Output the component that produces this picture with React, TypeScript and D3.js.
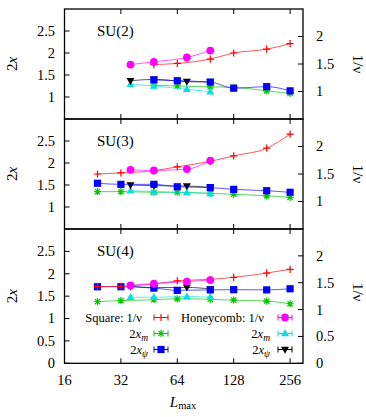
import React from 'react';
import * as d3 from 'd3';

const W = 366;
const H = 417;

// x-axis
const xTicks = [16, 32, 64, 128, 256];
const xDomain = [16, 300];

// panels
const panelNames = ['SU(2)', 'SU(3)', 'SU(4)'];
const leftDomains = [[0.5, 3], [0.5, 3], [0, 3]];
const rightDomains = [[0.5, 2.5], [0.5, 2.5], [0, 2.5]];
const leftTicks = [[1, 1.5, 2, 2.5], [1, 1.5, 2, 2.5], [0, 0.5, 1, 1.5, 2, 2.5]];
const rightTicks = [[1, 1.5, 2], [1, 1.5, 2], [0, 0.5, 1, 1.5, 2]];

// system sizes
const squareLsu2 = [48, 64, 96, 128, 192, 256];
const squareL = [24, 32, 48, 64, 96, 128, 192, 256];
const honeyL = [36, 48, 72, 96];

// SU(2)
const su2SqInvNu = [1.49, 1.51, 1.59, 1.70, 1.77, 1.87];
const su2Sq2xm = [1.27, 1.25, 1.23, 1.22, 1.14, 1.08];
const su2Sq2xpsi = [1.39, 1.37, 1.34, 1.2, 1.235, 1.14];
const su2HcInvNu = [1.49, 1.54, 1.62, 1.745];
const su2Hc2xm = [1.29, 1.25, 1.175, 1.12];
const su2Hc2xpsi = [1.37, 1.4, 1.35, 1.34];

// SU(3)
const su3SqInvNu = [1.5, 1.52, 1.56, 1.63, 1.73, 1.83, 1.97, 2.225];
const su3Sq2xm = [1.35, 1.35, 1.335, 1.335, 1.31, 1.29, 1.255, 1.22];
const su3Sq2xpsi = [1.54, 1.515, 1.515, 1.46, 1.44, 1.4, 1.37, 1.335];
const su3HcInvNu = [1.576, 1.564, 1.589, 1.745];
const su3Hc2xm = [1.37, 1.35, 1.325, 1.31];
const su3Hc2xpsi = [1.5, 1.485, 1.477, 1.448];

// SU(4)
const su4SqInvNu = [1.426, 1.434, 1.477, 1.533, 1.564, 1.6, 1.68, 1.75];
const su4Sq2xm = [1.38, 1.4, 1.42, 1.44, 1.43, 1.41, 1.39, 1.33];
const su4Sq2xpsi = [1.71, 1.71, 1.68, 1.63, 1.64, 1.645, 1.64, 1.665];
const su4HcInvNu = [1.45, 1.485, 1.52, 1.55];
const su4Hc2xm = [1.475, 1.475, 1.49, 1.475];
const su4Hc2xpsi = [1.72, 1.69, 1.695, 1.66];

type Marker = 'plus' | 'star' | 'square' | 'circle' | 'triUp' | 'triDown';
interface Series { L: number[]; v: number[]; axis: 'L' | 'R'; color: string; marker: Marker; }

const C_RED = '#ff0000';
const C_GREEN = '#00c800';
const C_BLUE = '#0000ff';
const C_MAG = '#ff00ff';
const C_CYAN = '#00e0e0';
const C_BLACK = '#000000';

function mk(sqL: number[], sqInv: number[], sqM: number[], sqP: number[], hcInv: number[], hcM: number[], hcP: number[]): Series[] {
  return [
    { L: sqL, v: sqM, axis: 'L', color: C_GREEN, marker: 'star' },
    { L: honeyL, v: hcM, axis: 'L', color: C_CYAN, marker: 'triUp' },
    { L: honeyL, v: hcP, axis: 'L', color: C_BLACK, marker: 'triDown' },
    { L: sqL, v: sqP, axis: 'L', color: C_BLUE, marker: 'square' },
    { L: sqL, v: sqInv, axis: 'R', color: C_RED, marker: 'plus' },
    { L: honeyL, v: hcInv, axis: 'R', color: C_MAG, marker: 'circle' },
  ];
}

const panelSeries: Series[][] = [
  mk(squareLsu2, su2SqInvNu, su2Sq2xm, su2Sq2xpsi, su2HcInvNu, su2Hc2xm, su2Hc2xpsi),
  mk(squareL, su3SqInvNu, su3Sq2xm, su3Sq2xpsi, su3HcInvNu, su3Hc2xm, su3Hc2xpsi),
  mk(squareL, su4SqInvNu, su4Sq2xm, su4Sq2xpsi, su4HcInvNu, su4Hc2xm, su4Hc2xpsi),
];

const X0 = 64.5;
const X1 = 303;
const panelTops = [9, 119, 229];
const panelBottoms = [119, 229, 363.3];

const FONT = '"Liberation Serif", "Times New Roman", serif';

function MarkerShape({ m, x, y, color }: { m: Marker; x: number; y: number; color: string }) {
  const s = 3.6;
  switch (m) {
    case 'plus':
      return <path d={`M${x - s},${y}H${x + s}M${x},${y - s}V${y + s}`} stroke={color} strokeWidth={1.2} fill="none" />;
    case 'star':
      return <path d={`M${x - s},${y}H${x + s}M${x},${y - s}V${y + s}M${x - s * 0.75},${y - s * 0.75}L${x + s * 0.75},${y + s * 0.75}M${x - s * 0.75},${y + s * 0.75}L${x + s * 0.75},${y - s * 0.75}`} stroke={color} strokeWidth={1.2} fill="none" />;
    case 'square':
      return <rect x={x - 3.6} y={y - 3.6} width={7.2} height={7.2} fill={color} />;
    case 'circle':
      return <circle cx={x} cy={y} r={3.9} fill={color} />;
    case 'triUp':
      return <path d={`M${x},${y - 4.2}L${x + 4},${y + 2.8}L${x - 4},${y + 2.8}Z`} fill={color} />;
    case 'triDown':
      return <path d={`M${x},${y + 4.2}L${x + 4},${y - 2.8}L${x - 4},${y - 2.8}Z`} fill={color} />;
  }
  return null;
}

function LegendSample({ cx, cy, color, m }: { cx: number; cy: number; color: string; m: Marker }) {
  return (
    <g>
      <path d={`M${cx - 7},${cy}H${cx + 7}M${cx - 7},${cy - 3}V${cy + 3}M${cx + 7},${cy - 3}V${cy + 3}`} stroke={color} strokeWidth={1} fill="none" />
      <MarkerShape m={m} x={cx} y={cy} color={color} />
    </g>
  );
}

export default function App() {
  const x = d3.scaleLog().base(2).domain(xDomain).range([X0, X1]);

  return (
    <svg width={W} height={H} style={{ position: 'absolute', left: 0, top: 0, background: '#fff' }} fontFamily={FONT}>
      {panelNames.map((name, pi) => {
        const top = panelTops[pi];
        const bot = panelBottoms[pi];
        const yL = d3.scaleLinear().domain(leftDomains[pi]).range([bot, top]);
        const yR = d3.scaleLinear().domain(rightDomains[pi]).range([bot, top]);
        const mid = (top + bot) / 2;
        return (
          <g key={name}>
            {/* x ticks top & bottom */}
            {xTicks.filter(t => t > 16).map(t => (
              <g key={t}>
                <line x1={x(t)} x2={x(t)} y1={top} y2={top + 5} stroke="#000" strokeWidth={1} />
                <line x1={x(t)} x2={x(t)} y1={bot} y2={bot - 5} stroke="#000" strokeWidth={1} />
              </g>
            ))}
            {/* left ticks */}
            {leftTicks[pi].map(t => (
              <g key={'l' + t}>
                <line x1={X0} x2={X0 + 5} y1={yL(t)} y2={yL(t)} stroke="#000" strokeWidth={1} />
                <text x={55} y={yL(t)} dy="0.34em" textAnchor="end" fontSize={14.5}>{String(t)}</text>
              </g>
            ))}
            {/* right ticks */}
            {rightTicks[pi].map(t => (
              <g key={'r' + t}>
                <line x1={X1} x2={X1 - 5} y1={yR(t)} y2={yR(t)} stroke="#000" strokeWidth={1} />
                <text x={316} y={yR(t)} dy="0.34em" textAnchor="start" fontSize={14.5}>{String(t)}</text>
              </g>
            ))}
            {/* axis titles */}
            <text transform={`translate(17,${mid}) rotate(-90)`} textAnchor="middle" fontSize={15}>
              2<tspan fontStyle="italic">x</tspan>
            </text>
            <text transform={`translate(353,${pi === 2 ? mid - 4 : mid}) rotate(90)`} textAnchor="middle" fontSize={15}>
              1/ν
            </text>
            {/* panel label */}
            <text x={97} y={top + 27} fontSize={15}>{name}</text>
            {/* series */}
            {panelSeries[pi].map((s, si) => {
              const ys = s.axis === 'L' ? yL : yR;
              const pts: [number, number][] = s.L.map((L, i) => [x(L), ys(s.v[i])]);
              const line = d3.line().curve(d3.curveMonotoneX)(pts) || '';
              return (
                <g key={si}>
                  <path d={line} fill="none" stroke={s.color} strokeWidth={1} strokeOpacity={0.65} />
                  {pts.map((p, i) => <MarkerShape key={i} m={s.marker} x={p[0]} y={p[1]} color={s.color} />)}
                </g>
              );
            })}
            <rect x={X0} y={top} width={X1 - X0} height={bot - top} fill="none" stroke="#000" strokeWidth={1.3} />
          </g>
        );
      })}

      {/* legend */}
      <g fontSize={12.5}>
        <text x={142} y={317.5} dy="0.34em" textAnchor="end">Square: 1/ν</text>
        <text x={148} y={333.5} dy="0.34em" textAnchor="end">2<tspan fontStyle="italic">x</tspan><tspan fontStyle="italic" fontSize={9.5} dy={3}>m</tspan></text>
        <text x={148} y={349.5} dy="0.34em" textAnchor="end">2<tspan fontStyle="italic">x</tspan><tspan fontStyle="italic" fontSize={9.5} dy={3}>ψ</tspan></text>
        <text x={264} y={317.5} dy="0.34em" textAnchor="end">Honeycomb: 1/ν</text>
        <text x={270} y={333.5} dy="0.34em" textAnchor="end">2<tspan fontStyle="italic">x</tspan><tspan fontStyle="italic" fontSize={9.5} dy={3}>m</tspan></text>
        <text x={270} y={349.5} dy="0.34em" textAnchor="end">2<tspan fontStyle="italic">x</tspan><tspan fontStyle="italic" fontSize={9.5} dy={3}>ψ</tspan></text>
      </g>
      <LegendSample cx={161} cy={317.5} color={C_RED} m="plus" />
      <LegendSample cx={161} cy={333.5} color={C_GREEN} m="star" />
      <LegendSample cx={161} cy={349.5} color={C_BLUE} m="square" />
      <LegendSample cx={285} cy={317.5} color={C_MAG} m="circle" />
      <LegendSample cx={285} cy={333.5} color={C_CYAN} m="triUp" />
      <LegendSample cx={285} cy={349.5} color={C_BLACK} m="triDown" />

      {/* x tick labels */}
      {xTicks.map(t => (
        <text key={t} x={x(t)} y={385} textAnchor="middle" fontSize={14.5}>{String(t)}</text>
      ))}
      <text x={183} y={406.5} textAnchor="middle" fontSize={15}>
        <tspan fontStyle="italic">L</tspan><tspan fontSize={10.5} dy={2.5}>max</tspan>
      </text>
    </svg>
  );
}
